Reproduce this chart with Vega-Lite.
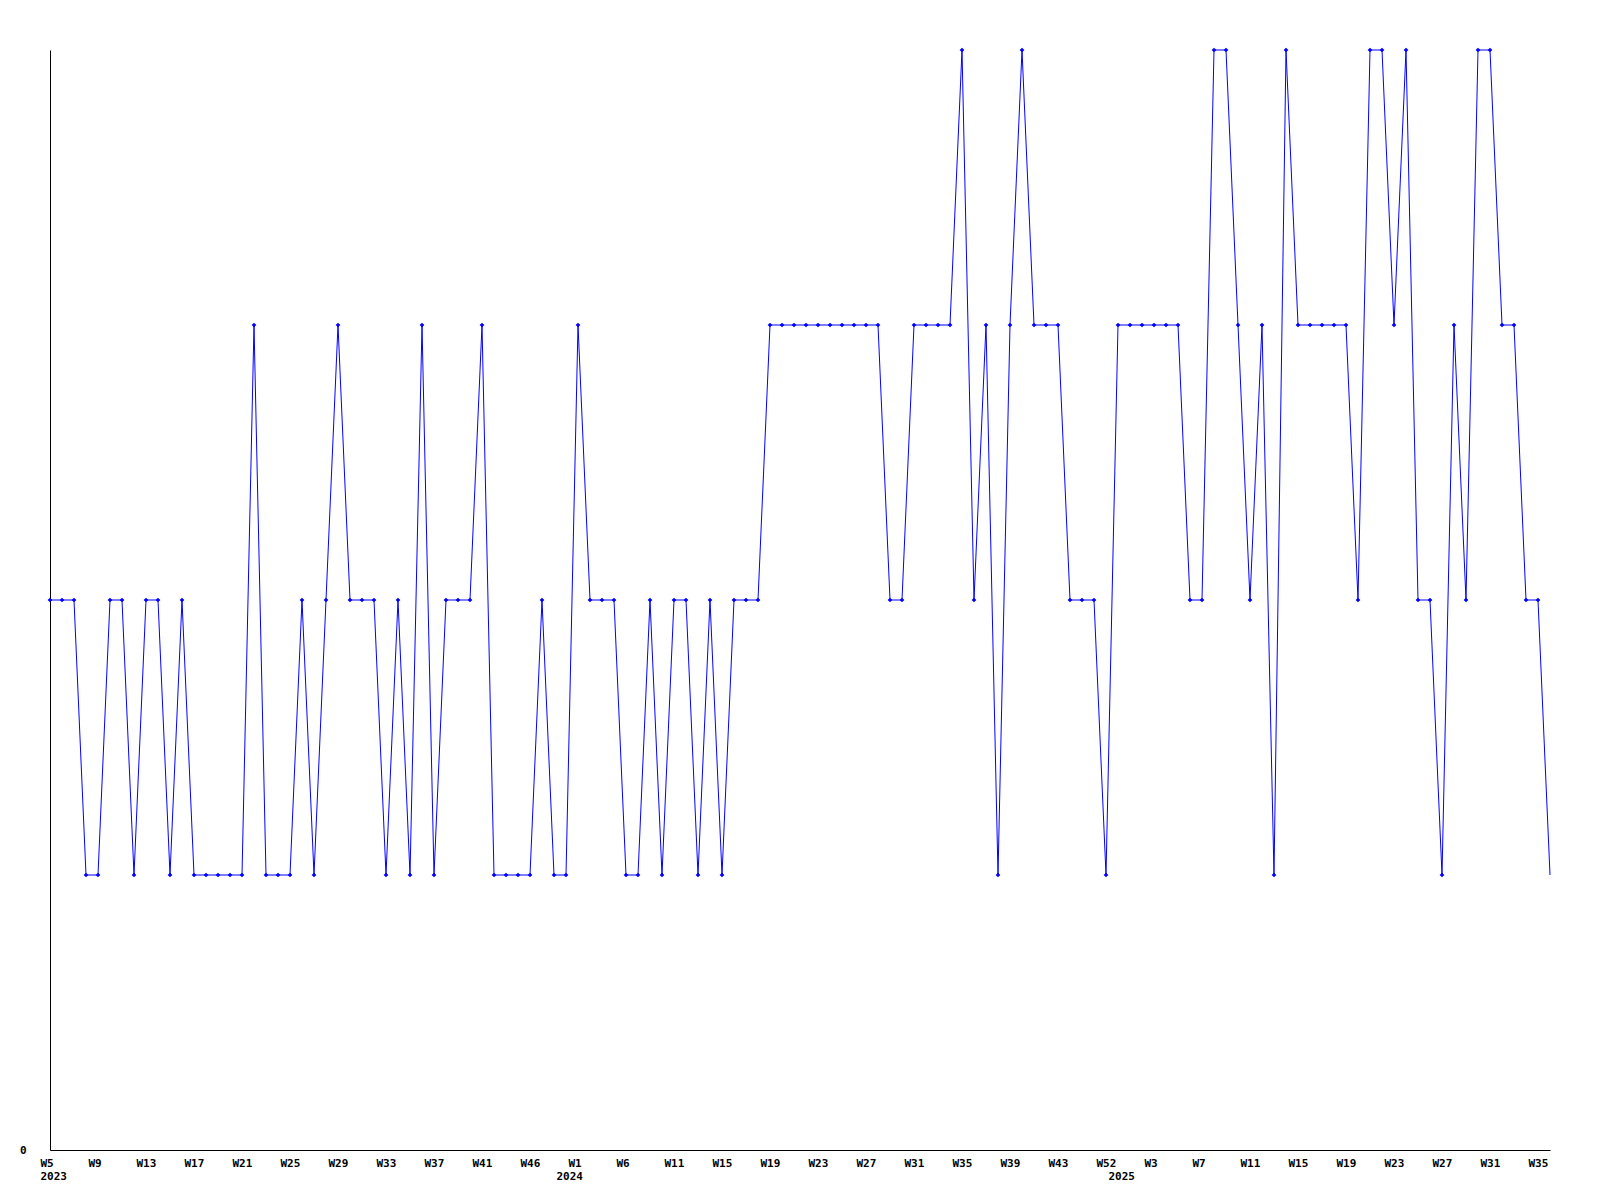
{
  "$schema": "https://vega.github.io/schema/vega-lite/v6.json",
  "width": 1500,
  "height": 1100,
  "autosize": {"type": "none"},
  "padding": {"left": 50, "top": 50, "right": 50, "bottom": 50},
  "background": "white",
  "config": {
    "view": {"stroke": null},
    "axis": {
      "grid": false,
      "ticks": false,
      "domainColor": "black",
      "domainWidth": 1,
      "labelFont": "DejaVu Sans Mono",
      "labelFontWeight": "bold",
      "labelFontSize": 11,
      "labelColor": "black",
      "title": null
    }
  },
  "data": {
    "values": [
      {"n":0,"value":2},{"n":1,"value":2},{"n":2,"value":2},{"n":3,"value":1},{"n":4,"value":1},
      {"n":5,"value":2},{"n":6,"value":2},{"n":7,"value":1},{"n":8,"value":2},{"n":9,"value":2},
      {"n":10,"value":1},{"n":11,"value":2},{"n":12,"value":1},{"n":13,"value":1},{"n":14,"value":1},
      {"n":15,"value":1},{"n":16,"value":1},{"n":17,"value":3},{"n":18,"value":1},{"n":19,"value":1},
      {"n":20,"value":1},{"n":21,"value":2},{"n":22,"value":1},{"n":23,"value":2},{"n":24,"value":3},
      {"n":25,"value":2},{"n":26,"value":2},{"n":27,"value":2},{"n":28,"value":1},{"n":29,"value":2},
      {"n":30,"value":1},{"n":31,"value":3},{"n":32,"value":1},{"n":33,"value":2},{"n":34,"value":2},
      {"n":35,"value":2},{"n":36,"value":3},{"n":37,"value":1},{"n":38,"value":1},{"n":39,"value":1},
      {"n":40,"value":1},{"n":41,"value":2},{"n":42,"value":1},{"n":43,"value":1},{"n":44,"value":3},
      {"n":45,"value":2},{"n":46,"value":2},{"n":47,"value":2},{"n":48,"value":1},{"n":49,"value":1},
      {"n":50,"value":2},{"n":51,"value":1},{"n":52,"value":2},{"n":53,"value":2},{"n":54,"value":1},
      {"n":55,"value":2},{"n":56,"value":1},{"n":57,"value":2},{"n":58,"value":2},{"n":59,"value":2},
      {"n":60,"value":3},{"n":61,"value":3},{"n":62,"value":3},{"n":63,"value":3},{"n":64,"value":3},
      {"n":65,"value":3},{"n":66,"value":3},{"n":67,"value":3},{"n":68,"value":3},{"n":69,"value":3},
      {"n":70,"value":2},{"n":71,"value":2},{"n":72,"value":3},{"n":73,"value":3},{"n":74,"value":3},
      {"n":75,"value":3},{"n":76,"value":4},{"n":77,"value":2},{"n":78,"value":3},{"n":79,"value":1},
      {"n":80,"value":3},{"n":81,"value":4},{"n":82,"value":3},{"n":83,"value":3},{"n":84,"value":3},
      {"n":85,"value":2},{"n":86,"value":2},{"n":87,"value":2},{"n":88,"value":1},{"n":89,"value":3},
      {"n":90,"value":3},{"n":91,"value":3},{"n":92,"value":3},{"n":93,"value":3},{"n":94,"value":3},
      {"n":95,"value":2},{"n":96,"value":2},{"n":97,"value":4},{"n":98,"value":4},{"n":99,"value":3},
      {"n":100,"value":2},{"n":101,"value":3},{"n":102,"value":1},{"n":103,"value":4},{"n":104,"value":3},
      {"n":105,"value":3},{"n":106,"value":3},{"n":107,"value":3},{"n":108,"value":3},{"n":109,"value":2},
      {"n":110,"value":4},{"n":111,"value":4},{"n":112,"value":3},{"n":113,"value":4},{"n":114,"value":2},
      {"n":115,"value":2},{"n":116,"value":1},{"n":117,"value":3},{"n":118,"value":2},{"n":119,"value":4},
      {"n":120,"value":4},{"n":121,"value":3},{"n":122,"value":3},{"n":123,"value":2},{"n":124,"value":2},
      {"n":125,"value":1}
    ]
  },
  "encoding": {
    "x": {
      "field": "n",
      "type": "quantitative",
      "scale": {"domain": [0, 125], "nice": false, "zero": false},
      "axis": {
        "values": [0,4,8,12,16,20,24,28,32,36,40,43,44,48,52,56,60,64,68,72,76,80,84,88,89,92,96,100,104,108,112,116,120,124],
        "labelExpr": "datum.value == 0 ? ['W5','2023'] : datum.value == 43 ? ['','2024'] : datum.value == 89 ? ['','2025'] : ['W5','W9','W13','W17','W21','W25','W29','W33','W37','W41','W46','W1','W6','W11','W15','W19','W23','W27','W31','W35','W39','W43','W52','W3','W7','W11','W15','W19','W23','W27','W31','W35'][datum.value/4]",
        "labelAlign": "left",
        "labelOffset": -10,
        "labelBaseline": "top",
        "labelPadding": 7,
        "labelLineHeight": 13,
        "labelOverlap": false,
        "labelBound": false,
        "labelFlush": false
      }
    },
    "y": {
      "field": "value",
      "type": "quantitative",
      "scale": {"domain": [0, 4], "nice": false, "zero": true},
      "axis": {
        "values": [0],
        "labelPadding": 24,
        "labelBaseline": "middle",
        "labelAlign": "right"
      }
    }
  },
  "layer": [
    {
      "mark": {"type": "line", "color": "#0000ff", "strokeWidth": 1}
    },
    {
      "transform": [{"filter": "datum.n < 125"}],
      "mark": {"type": "point", "shape": "diamond", "filled": true, "color": "#0000ff", "size": 22, "opacity": 1}
    }
  ]
}
